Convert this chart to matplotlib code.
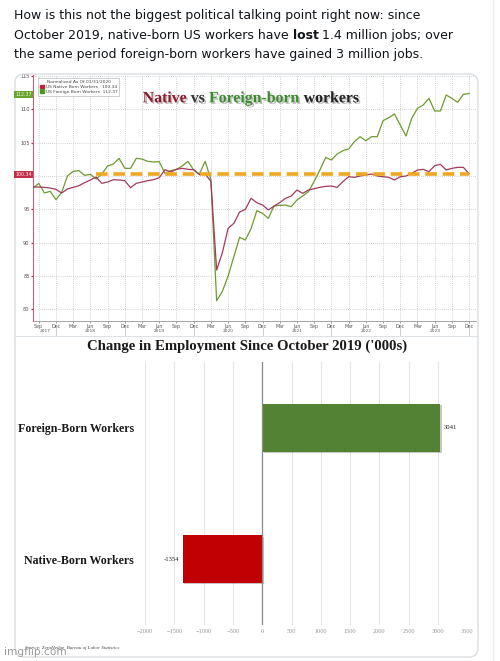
import numpy as np
import matplotlib.pyplot as plt
import matplotlib.patheffects as pe
from matplotlib.patches import FancyBboxPatch, Patch
from matplotlib import transforms

# monthly index, Aug 2017 .. Dec 2023 (normalized, 100 = Jan 2020)
start_year, start_month = 2017, 8
native = [98.35, 98.35, 98.3, 98.2, 98.0, 97.45, 98.05, 98.3, 98.55, 99.0, 99.4,
          99.85, 98.9, 99.1, 99.45, 99.4, 99.3, 98.25, 98.9, 99.1, 99.3,
          99.45, 99.75, 100.95, 100.6, 101.0, 101.15, 101.0, 100.95, 100.2, 100.3,
          99.2, 85.9, 88.5, 92.15, 92.9, 94.6, 95.0, 96.65, 96.0, 95.65,
          94.9, 95.5, 96.0, 96.65, 97.0, 97.9, 97.4, 97.9, 98.1, 98.3,
          98.45, 98.5, 98.3, 99.15, 99.9, 99.8, 100.0, 100.15, 100.3, 100.0,
          99.9, 99.8, 99.4, 99.9, 100.0, 100.4, 100.9, 101.0, 100.65, 101.55,
          101.75, 100.9, 101.15, 101.3, 101.3, 100.34]
foreign = [98.15, 98.9, 97.45, 97.7, 96.45, 97.55, 100.0, 100.7, 100.8, 100.1, 100.25,
           99.55, 100.3, 101.5, 101.8, 102.65, 101.15, 101.15, 102.65, 102.55, 102.2,
           102.1, 102.15, 100.4, 100.8, 101.0, 101.5, 102.2, 100.9, 100.3, 102.2,
           99.5, 81.3, 82.7, 85.0, 87.9, 90.8, 90.4, 92.1, 94.8, 94.4,
           93.65, 95.5, 95.6, 95.65, 95.4, 96.4, 97.0, 97.65, 99.2, 100.9,
           102.8, 102.4, 103.3, 103.8, 104.05, 105.15, 105.9, 105.3, 105.9, 105.9,
           108.3, 108.75, 109.3, 107.65, 106.0, 108.65, 110.15, 110.65, 111.65, 109.75,
           109.75, 112.15, 111.65, 111.05, 112.25, 112.37]
native_last = 100.34
foreign_last = 112.37
ref_start = 11  # dashed reference line starts Jul 2018

bar_labels = ['Native-Born Workers', 'Foreign-Born Workers']
bar_values = [-1354, 3041]
bar_colors = ['#c00000', '#548235']

tweet = ["How is this not the biggest political talking point right now: since",
         ["October 2019, native-born US workers have ", "lost", " 1.4 million jobs; over"],
         "the same period foreign-born workers have gained 3 million jobs."]

month_names = ['Jan', 'Feb', 'Mar', 'Apr', 'May', 'Jun', 'Jul', 'Aug', 'Sep', 'Oct', 'Nov', 'Dec']

W, H = 500, 661
fig = plt.figure(figsize=(W / 100, H / 100), dpi=100)
fig.patch.set_facecolor('white')

def rect(x0, y0, x1, y1):
    return [x0 / W, 1 - y1 / H, (x1 - x0) / W, (y1 - y0) / H]

native_c = '#a23a5e'
foreign_c = '#6e9a2f'
serif = 'Liberation Serif'

# ---------- line chart ----------
ax1 = fig.add_axes(rect(33, 75, 476, 320.7))
ax1.set_facecolor('none')
x = np.arange(len(native))
ax1.plot(x, foreign, color=foreign_c, lw=0.9, zorder=3)
ax1.plot(x, native, color=native_c, lw=0.9, zorder=4)
ax1.plot([ref_start, x[-1]], [native_last, native_last], color='#f0a820', lw=2.6,
         dashes=(3.2, 1.6), zorder=5, solid_capstyle='butt')
ax1.set_xlim(0.2, 77.2)
ax1.set_ylim(78.3, 115.15)

quarter = [i for i in x if (start_month - 1 + i) % 3 == 2]
ax1.set_xticks(quarter, [month_names[(start_month - 1 + i) % 12] for i in quarter])
ax1.set_xticks(x, minor=True)
yt = np.arange(80, 116, 5)
# the 100 label sits under the native value tag
ax1.set_yticks(yt, ['' if v == 100 else str(v) for v in yt])
ax1.tick_params(axis='x', labelsize=3.4, colors='#555', length=1.2, width=0.4, pad=1)
ax1.tick_params(axis='x', which='minor', length=0.8, width=0.3, color='#999')
ax1.tick_params(axis='y', labelsize=3.6, labelcolor='#555', color='#d02040',
                length=1.5, width=0.9, pad=1)
ax1.grid(True, color='#c4c4c4', lw=0.6, linestyle=(0, (1, 1.5)))
for s in ['top', 'right']:
    ax1.spines[s].set_visible(False)
ax1.spines['left'].set_color('#c8607a')
ax1.spines['left'].set_linewidth(0.8)
ax1.spines['bottom'].set_color('#999')
ax1.spines['bottom'].set_linewidth(0.6)

# year row under the month labels
tr = transforms.blended_transform_factory(ax1.transData, ax1.transAxes)
n_years = (start_month - 1 + len(x) - 1) // 12 + 1
for k in range(n_years):
    yr = start_year + k
    dec = 12 * k + (12 - start_month)
    jun = dec - 6
    ax1.plot([dec, dec], [-0.03, -0.06], transform=tr, color='#bbb', lw=0.5, clip_on=False)
    xc = jun if jun > 0 else (0.2 + dec) / 2
    ax1.text(xc, -0.042, str(yr), transform=tr, fontsize=3.2, color='#555',
             ha='center', va='center')

leg = ax1.legend(handles=[Patch(color='#c0203a'), Patch(color='#4a9a20')],
                 labels=['US Native Born Workers   %.2f' % native_last,
                         'US Foreign Born Workers  %.2f' % foreign_last],
                 title='Normalized As Of 01/31/2020', loc='upper left',
                 bbox_to_anchor=(0.007, 0.995), fontsize=3.2, title_fontsize=3.2,
                 fancybox=False, edgecolor='#aaa', borderpad=0.4, handlelength=0.9,
                 handleheight=0.9, handletextpad=0.4, labelspacing=0.1)
leg.get_frame().set_linewidth(0.5)
leg.get_title().set_color('#444')
for t in leg.get_texts():
    t.set_color('#444')

# ---------- bar chart ----------
ax2 = fig.add_axes(rect(145, 362, 467.3, 625))
ax2.set_facecolor('none')
yy = np.arange(len(bar_values))
bars = ax2.barh(yy, bar_values, height=0.362, color=bar_colors, zorder=3)
for b in bars:
    b.set_path_effects([pe.SimplePatchShadow(offset=(1, -1), alpha=0.25), pe.Normal()])
ax2.set_xlim(-2000, 3500)
ax2.set_ylim(-0.5, 1.5)
ax2.set_xticks(np.arange(-2000, 3501, 500))
ax2.xaxis.grid(True, color='#e4e4e4', lw=0.8, zorder=0)
ax2.axvline(0, color='#8a8a8a', lw=0.9, zorder=4)
for s in ax2.spines.values():
    s.set_visible(False)
ax2.tick_params(axis='x', length=0, labelsize=4.6, labelcolor='#999', pad=3.2)
ax2.set_yticks(yy, bar_labels)
ax2.tick_params(axis='y', length=0, pad=8)
for t in ax2.get_yticklabels():
    t.set_fontfamily(serif)
    t.set_fontweight('bold')
    t.set_fontsize(8.6)
    t.set_color('#1a1a1a')
for t in ax2.get_xticklabels():
    t.set_fontfamily(serif)
for v, yv in zip(bar_values, yy):
    off = 55 if v > 0 else -55
    ax2.text(v + off, yv, str(v), ha='left' if v > 0 else 'right', va='center',
             fontsize=4.8, family=serif, color='#222')

# ---------- overlay: tweet text, titles, frame ----------
ov = fig.add_axes([0, 0, 1, 1], zorder=10)
ov.set_xlim(0, W)
ov.set_ylim(H, 0)
ov.axis('off')
ov.patch.set_alpha(0)

tw = dict(fontsize=9.0, color='#0f1419', family='DejaVu Sans')
baselines = [19.2, 38.8, 58.3]
for line, yb in zip(tweet, baselines):
    if isinstance(line, str):
        ov.text(14, yb, line, va='baseline', ha='left', **tw)
    else:
        prev = ov.text(14, yb, line[0], va='baseline', ha='left', **tw)
        for piece in line[1:]:
            prev = ov.annotate(piece, xy=(1, 0), xycoords=prev, va='bottom', ha='left',
                               fontweight='bold' if piece == 'lost' else 'normal', **tw)

shadow = [pe.withSimplePatchShadow(offset=(1.2, -1.2), shadow_rgbFace='#999', alpha=0.6)]
parts = [('Native', '#8e1b2e'), (' vs ', '#333333'), ('Foreign-born', '#3a8c2c'),
         (' workers', '#222222')]
prev = None
for txt, col in parts:
    kw = dict(fontsize=11.4, fontweight='bold', family=serif, color=col, path_effects=shadow)
    if prev is None:
        prev = ov.text(142.7, 102.3, txt, ha='left', va='baseline', **kw)
    else:
        prev = ov.annotate(txt, xy=(1, 0), xycoords=prev, ha='left', va='bottom', **kw)

# value tags on the left axis
ov.text(23.5, 94.2, '%.2f' % foreign_last, ha='center', va='center', fontsize=3.4,
        color='#f4f4d0', bbox=dict(boxstyle='square,pad=0.25', fc='#6aa531', ec='none'))
ov.text(23.5, 174.2, '%.2f' % native_last, ha='center', va='center', fontsize=3.4,
        color='#fff0f0', bbox=dict(boxstyle='square,pad=0.25', fc='#c0304a', ec='none'))

ov.text(247, 346.5, "Change in Employment Since October 2019 ('000s)", ha='center',
        va='center', fontsize=10.6, fontweight='bold', family=serif, color='#1a1a1a')
ov.text(25, 648, 'Source: ZeroHedge, Bureau of Labor Statistics', fontsize=3.6,
        style='italic', family=serif, color='#444', va='center')
ov.text(4, 652, 'imgflip.com', fontsize=7.6, color='#9a9a9a', va='center', ha='left')

frame = FancyBboxPatch((15, 74), 463, 583, boxstyle='round,pad=0,rounding_size=9',
                       fc='none', ec='#d6dbe0', lw=0.9)
ov.add_patch(frame)
ov.plot([15, 478], [336, 336], color='#dde2e6', lw=0.8)
ov.plot([492.5, 492.5], [0, H], color='#eceff1', lw=1)

fig.savefig('out.png', dpi=100)
